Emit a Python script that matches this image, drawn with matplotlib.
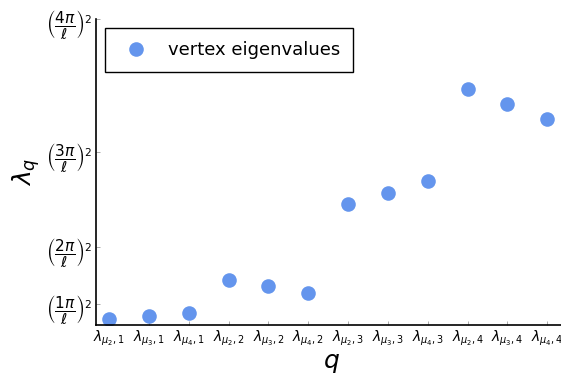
import matplotlib
matplotlib.use("Agg")
import matplotlib.pyplot as plt

# eigenvalues, in units of (pi/l)^2
labels = [r'$\lambda_{\mu_2,1}$', r'$\lambda_{\mu_3,1}$', r'$\lambda_{\mu_4,1}$',
          r'$\lambda_{\mu_2,2}$', r'$\lambda_{\mu_3,2}$', r'$\lambda_{\mu_4,2}$',
          r'$\lambda_{\mu_2,3}$', r'$\lambda_{\mu_3,3}$', r'$\lambda_{\mu_4,3}$',
          r'$\lambda_{\mu_2,4}$', r'$\lambda_{\mu_3,4}$', r'$\lambda_{\mu_4,4}$']
values = [0.21, 0.37, 0.53, 2.26, 1.95, 1.58, 6.26, 6.84, 7.47, 12.32, 11.53, 10.74]

ytick_pos = [1, 4, 9, 16]
ytick_lab = [r'$\left(\dfrac{1\pi}{\ell}\right)^2$', r'$\left(\dfrac{2\pi}{\ell}\right)^2$',
             r'$\left(\dfrac{3\pi}{\ell}\right)^2$', r'$\left(\dfrac{4\pi}{\ell}\right)^2$']

fig = plt.figure(figsize=(5.61, 3.78), dpi=100)
ax = fig.add_axes([96/561, 53/378, 470/561, 306/378])

xs = list(range(1, len(values) + 1))
ax.plot(xs, values, 'o', color='#6495ED', markersize=10.5, markeredgewidth=0,
        label='vertex eigenvalues')

ax.set_xlim(0.67, 12.47)
ax.set_ylim(-0.1, 16)
ax.set_xticks(xs)
ax.set_xticklabels(labels, fontsize=10)
ax.set_yticks(ytick_pos)
ax.set_yticklabels(ytick_lab, fontsize=11)

ax.spines['top'].set_visible(False)
ax.spines['right'].set_visible(False)
ax.spines['left'].set_linewidth(1.2)
ax.spines['bottom'].set_linewidth(1.2)
ax.tick_params(direction='in', length=3, width=0.5, color='#888888', pad=3)

ax.set_xlabel(r'$q$', fontsize=18, labelpad=2)
ax.set_ylabel(r'$\lambda_q$', fontsize=18, labelpad=3)

leg = ax.legend(loc='upper left', bbox_to_anchor=(0.0, 1.0), fontsize=13,
                fancybox=False, framealpha=1, edgecolor='black',
                borderpad=0.72, handletextpad=0.75, borderaxespad=0.5, markerscale=1)
leg.get_frame().set_linewidth(1.0)

fig.savefig('out.png', dpi=100)
